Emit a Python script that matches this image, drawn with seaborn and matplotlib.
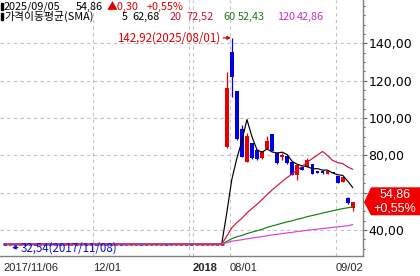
import numpy as np
import pandas as pd
import matplotlib
matplotlib.use("Agg")
import matplotlib.pyplot as plt
import seaborn as sns
from matplotlib.patches import Polygon, Rectangle
from matplotlib.ticker import FixedLocator, MultipleLocator, FuncFormatter

# ---------------- data ----------------
flat_price = 32.54
n_flat = 44
flat_colors = list("brbrbrbrbbrbrrbrbrbrrbrbrrrbrrrrbrrrrbrrrrrr")

opens = [84.6, 135.5, 114.6, 93.9, 76.6, 86.8, 82.9, 78.4, 83.4, 91.4, 81.4, 79.2, 79.4,
         76.6, 69.5, 73.8, 73.6, 75.3, 71.8, 71.4, 70.0, 71.0, 69.1, 65.9, 57.0, 52.0]
highs = [124.8, 142.92, 114.6, 96.0, 92.1, 86.8, 83.5, 82.5, 90.3, 91.4, 81.4, 81.2, 80.3,
         76.6, 74.8, 74.0, 78.4, 75.3, 71.8, 72.2, 71.8, 71.0, 69.1, 68.6, 57.5, 55.2]
lows = [83.8, 111.4, 88.2, 79.0, 76.6, 78.0, 77.6, 78.0, 83.4, 82.3, 75.6, 77.3, 75.5,
        69.3, 66.8, 72.0, 73.6, 70.0, 70.3, 69.8, 70.0, 70.4, 65.0, 65.6, 53.8, 50.0]
closes = [115.9, 122.1, 88.6, 79.3, 90.3, 78.4, 77.9, 82.5, 87.7, 82.5, 76.0, 80.0, 75.7,
          69.5, 74.8, 72.1, 77.5, 70.0, 70.4, 70.6, 71.8, 70.6, 65.3, 68.6, 54.56, 54.86]

ma5_real = [49.2, 67.1, 78.3, 87.7, 99.2, 90.0, 82.9, 81.7, 83.4, 81.8, 81.3, 81.7, 80.4,
            76.7, 75.2, 74.4, 73.9, 72.8, 72.9, 72.1, 72.1, 70.6, 69.6, 69.3, 66.2, 62.7]
ma20_real = [36.7, 41.2, 44.0, 46.3, 49.2, 51.5, 53.8, 56.3, 59.0, 61.5, 63.7, 66.1, 68.2,
             70.1, 72.2, 74.2, 76.4, 78.3, 80.2, 82.1, 79.9, 77.3, 76.1, 75.6, 73.8, 72.5]
ma60_real = [33.9, 35.4, 36.4, 37.1, 38.1, 38.9, 39.6, 40.4, 41.4, 42.2, 42.9, 43.7, 44.4,
             45.0, 45.8, 46.4, 47.2, 47.8, 48.4, 49.1, 49.7, 50.3, 50.9, 51.5, 51.9, 52.4]
ma120_real = [33.2, 34.0, 34.4, 34.8, 35.3, 35.7, 36.1, 36.5, 36.9, 37.4, 37.7, 38.1, 38.5,
              38.8, 39.2, 39.5, 39.9, 40.2, 40.5, 40.8, 41.1, 41.4, 41.7, 42.0, 42.3, 42.9]

ma_names = ["5", "20", "60", "120"]
x_major_pos = [-0.40, 17.46, 37.30, 44.64, 65.67]
x_major_lab = ["2017/11/06", "12/01", "2018", "08/01", "09/02"]
x_minor_pos = [13.49, 28.37, 33.33, 36.51, 55.75, 60.91]
x_grid_pos = [17.46, 36.51, 37.30, 44.64, 65.67]
y_major = [40, 60, 80, 100, 120, 140]
y_hidden = [60]  # label hidden behind the price tag in the reference

RED = "#e60000"
BLUE = "#0000e0"
C_MA = {"5": "#000000", "20": "#d2143c", "60": "#128012", "120": "#e03ce0"}

# ---------------- figure ----------------
sns.set_style("white")
W, H = 420, 276
fig = plt.figure(figsize=(W / 100, H / 100), dpi=100)
fig.patch.set_facecolor("white")
ax = fig.add_axes([0, 1 - 256 / H, 363 / W, 256 / H])
ax.set_facecolor("white")

# flat candles
for i in range(n_flat):
    c = BLUE if flat_colors[i] == "b" else RED
    ax.hlines(flat_price, i - 0.4, i + 0.4, color=c, lw=1.8, zorder=3)

# real candles
xs = np.arange(n_flat, n_flat + len(closes))
for x, o, h, l, c in zip(xs, opens, highs, lows, closes):
    col = RED if c >= o else BLUE
    ax.vlines(x, l, h, color=col, lw=0.9, zorder=3)
    lo, hi = min(o, c), max(o, c)
    ax.bar(x, max(hi - lo, 0.7), bottom=lo if hi - lo >= 0.7 else (lo + hi) / 2 - 0.35,
           width=0.76, color=col, linewidth=0, zorder=3)

# moving averages via seaborn
rows = []
for name, real in zip(ma_names, [ma5_real, ma20_real, ma60_real, ma120_real]):
    vals = [flat_price] * n_flat + real
    for i, v in enumerate(vals):
        rows.append({"idx": i, "val": v, "ma": name})
df = pd.DataFrame(rows)
sns.lineplot(data=df, x="idx", y="val", hue="ma", hue_order=ma_names,
             palette=C_MA, linewidth=0.85, legend=False, ax=ax)
for ln in ax.lines:
    ln.set_zorder(4)

ax.set_xlim(-0.99, 71.03)
ax.set_ylim(26.1, 163.2)
ax.set_xlabel("")
ax.set_ylabel("")

# grid
ax.yaxis.set_major_locator(FixedLocator(y_major))
ax.yaxis.set_minor_locator(MultipleLocator(5))
ax.grid(axis="y", which="major", color="#c4c4c4", lw=0.8, ls=(0, (3, 3)), zorder=1)
for gx in x_grid_pos:
    ax.axvline(gx, color="#c4c4c4", lw=0.8, ls=(0, (3, 3)), zorder=1)

# axes styling
for s in ["top", "left"]:
    ax.spines[s].set_visible(False)
for s in ["right", "bottom"]:
    ax.spines[s].set_color("#808080")
    ax.spines[s].set_linewidth(1.0)

ax.yaxis.tick_right()
ax.yaxis.set_major_formatter(FuncFormatter(
    lambda v, p: "" if round(v) in y_hidden else f"{v:.2f}".replace(".", ",")))
ax.tick_params(axis="y", which="major", direction="out", length=3, width=0.8,
               color="#606060", pad=1, labelsize=9, labelcolor="black")
ax.tick_params(axis="y", which="minor", direction="out", length=1.6, width=0.8,
               color="#606060")
for t in ax.get_yticklabels():
    t.set_fontfamily("DejaVu Sans")

ax.xaxis.set_major_locator(FixedLocator(x_major_pos))
ax.xaxis.set_minor_locator(FixedLocator(x_minor_pos))
ax.set_xticklabels(x_major_lab)
ax.tick_params(axis="x", which="both", direction="out", length=3.5, width=0.8,
               color="#707070", pad=1.5, labelsize=8)
for t in ax.get_xticklabels():
    t.set_ha("left")
    t.set_fontfamily("Liberation Sans")
    if t.get_text() == "2018":
        t.set_fontweight("bold")

# annotations
KFONT = ["Noto Sans CJK KR", "DejaVu Sans"]
hi_idx = n_flat + int(np.argmax(highs))
ax.annotate(f"{max(highs):.2f}".replace(".", ",") + "(2025/08/01)",
            xy=(hi_idx - 0.15, max(highs)), xytext=(-11, 0), textcoords="offset pixels",
            ha="right", va="center", color="#e00000", fontsize=8.3, family=KFONT,
            arrowprops=dict(arrowstyle="-|>", color="#e00000", lw=0.9,
                            mutation_scale=5, shrinkA=0, shrinkB=0), zorder=6)
ax.annotate(f"{flat_price:.2f}".replace(".", ",") + "(2017/11/08)",
            xy=(1.4, 30.6), xytext=(9, 0), textcoords="offset pixels",
            ha="left", va="center", color="#1010d0", fontsize=8.3, family=KFONT,
            arrowprops=dict(arrowstyle="-|>", color="#1010d0", lw=0.9,
                            mutation_scale=5, shrinkA=0, shrinkB=0), zorder=6)

# header text
def ptext(x, y, s, color="black", size=7.8):
    fig.text(x / W, 1 - y / H, s, color=color, fontsize=size, ha="left",
             va="baseline", family=KFONT)

for yy in (3, 13):
    fig.patches.append(Rectangle((1 / W, 1 - (yy + 7) / H), 2 / W, 7 / H,
                                 transform=fig.transFigure, color="black"))
ptext(4, 9.5, "2025/09/05")
ptext(76, 9.5, "54,86")
ptext(107, 9.5, "▲0,30", "#e00000")
ptext(147, 9.5, "+0,55%", "#e00000")
header2 = [(4, "가격이동평균(SMA)", "black"), (122, "5", "black"), (132, "62,68", "black"),
           (170, "20", "#c8102e"), (186, "72,52", "#c8102e"), (223, "60", "#1e7a1e"),
           (238, "52,43", "#1e7a1e"), (277, "120", "#c030c0"), (297, "42,86", "#c030c0")]
for x, s, c in header2:
    ptext(x, 20, s, c)

# price tag on the right
fig.canvas.draw()
tx, ty = ax.transData.transform((ax.get_xlim()[1], closes[-1]))
tx += 1
verts = [(tx, ty), (tx + 7, ty + 15), (tx + 57, ty + 15), (tx + 57, ty - 13), (tx + 7, ty - 13)]
verts_f = [(vx / W, vy / H) for vx, vy in verts]
fig.patches.append(Polygon(verts_f, closed=True, transform=fig.transFigure,
                           facecolor="#f00000", edgecolor="none", zorder=5))
fig.text((tx + 31) / W, (ty + 7.5) / H, f"{closes[-1]:.2f}".replace(".", ","),
         color="white", fontsize=9, ha="center", va="center", family="Liberation Sans",
         zorder=7)
fig.text((tx + 31) / W, (ty - 6.5) / H, "+0,55%",
         color="white", fontsize=9, ha="center", va="center", family="Liberation Sans",
         zorder=7)

fig.savefig("out.png", dpi=100, facecolor="white")
